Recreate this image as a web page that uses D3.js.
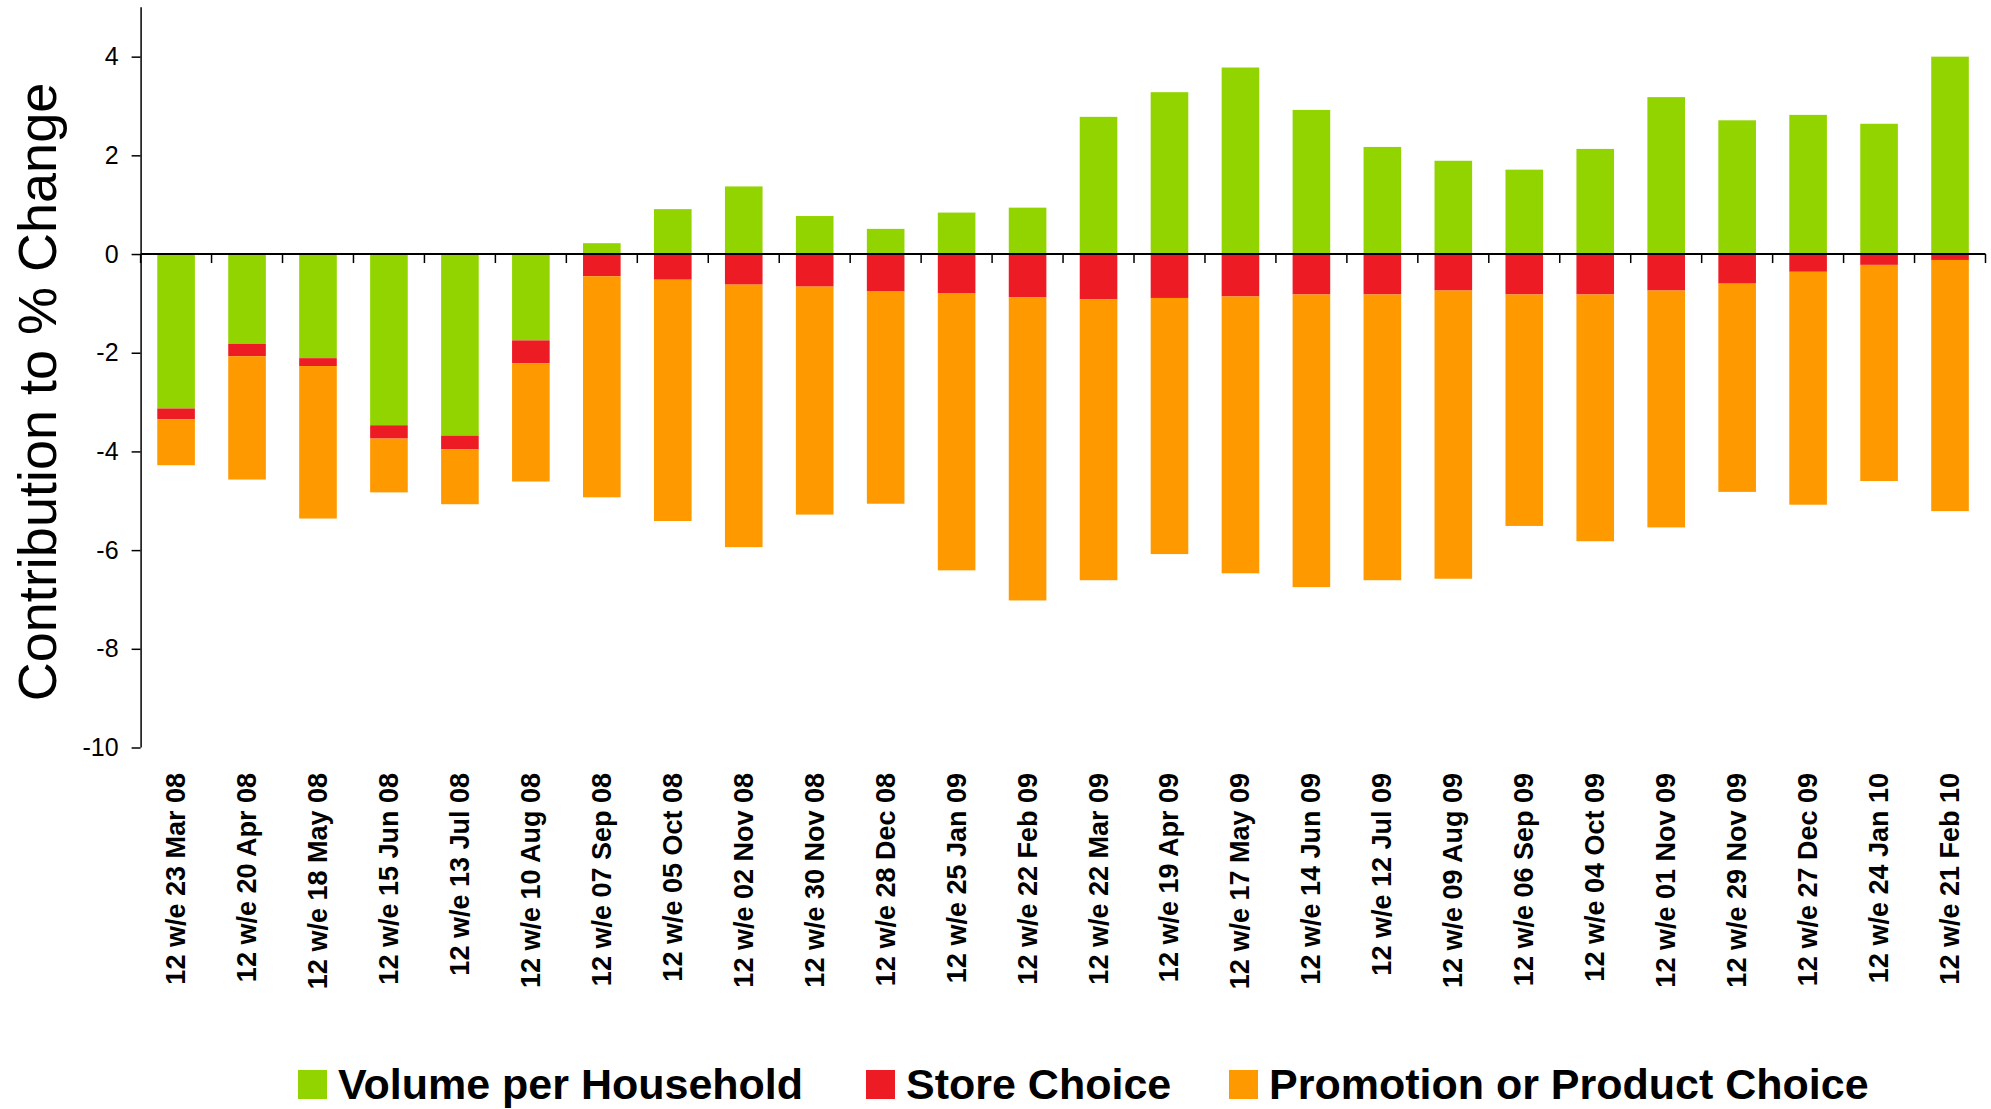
<!DOCTYPE html>
<html>
<head>
<meta charset="utf-8">
<script src="https://cdn.jsdelivr.net/npm/d3@7"></script>
<style>
  body { margin: 0; background: white; }
  svg { display: block; }
</style>
</head>
<body>
<svg id="chart" width="1991" height="1109"></svg>
<script>
/// data ///
const categories = [
  "12 w/e 23 Mar 08", "12 w/e 20 Apr 08", "12 w/e 18 May 08", "12 w/e 15 Jun 08",
  "12 w/e 13 Jul 08", "12 w/e 10 Aug 08", "12 w/e 07 Sep 08", "12 w/e 05 Oct 08",
  "12 w/e 02 Nov 08", "12 w/e 30 Nov 08", "12 w/e 28 Dec 08", "12 w/e 25 Jan 09",
  "12 w/e 22 Feb 09", "12 w/e 22 Mar 09", "12 w/e 19 Apr 09", "12 w/e 17 May 09",
  "12 w/e 14 Jun 09", "12 w/e 12 Jul 09", "12 w/e 09 Aug 09", "12 w/e 06 Sep 09",
  "12 w/e 04 Oct 09", "12 w/e 01 Nov 09", "12 w/e 29 Nov 09", "12 w/e 27 Dec 09",
  "12 w/e 24 Jan 10", "12 w/e 21 Feb 10"
]
const volumePerHousehold = [
  -3.13, -1.82, -2.11, -3.47, -3.68, -1.75, 0.22, 0.91, 1.37, 0.77, 0.51, 0.84, 0.94,
  2.78, 3.28, 3.78, 2.92, 2.17, 1.89, 1.71, 2.13, 3.18, 2.71, 2.82, 2.64, 4.00
]
const storeChoice = [
  -0.22, -0.25, -0.16, -0.27, -0.28, -0.46, -0.45, -0.52, -0.62, -0.66, -0.76, -0.80, -0.88,
  -0.92, -0.89, -0.86, -0.82, -0.82, -0.74, -0.82, -0.82, -0.74, -0.60, -0.36, -0.22, -0.12
]
const promotionOrProductChoice = [
  -0.93, -2.50, -3.09, -1.09, -1.11, -2.40, -4.48, -4.89, -5.32, -4.62, -4.30, -5.61, -6.14,
  -5.69, -5.19, -5.61, -5.93, -5.79, -5.84, -4.69, -5.00, -4.80, -4.22, -4.72, -4.38, -5.09
]
const seriesNames = ["Volume per Household", "Store Choice", "Promotion or Product Choice"]
const yTicks = [-10, -8, -6, -4, -2, 0, 2, 4]

/// constants ///
const font = "'Liberation Sans', Arial, sans-serif"
const colours = ["#92d400", "#ed1c24", "#ff9900"]
const plotLeft = 140.6, plotRight = 1985.5
const plotTop = 7.3, plotBottom = 747.5

// rows for the stack
const rows = categories.map((c, i) => ({
  cat: c,
  [seriesNames[0]]: volumePerHousehold[i],
  [seriesNames[1]]: storeChoice[i],
  [seriesNames[2]]: promotionOrProductChoice[i]
}))

// positives go up from zero, negatives go down in series order
const stacked = d3.stack()
  .keys(seriesNames)
  .offset(d3.stackOffsetDiverging)(rows)

/// scales ///
const xScale = d3.scaleBand()
  .domain(categories)
  .range([plotLeft, plotRight])
  .paddingInner(0.47)
  .paddingOuter(0.235)

const yScale = d3.scaleLinear()
  .domain([-10, 5])
  .range([plotBottom, plotTop])

const svg = d3.select("#chart")

/// bars ///
svg.append("g")
  .selectAll("g")
  .data(stacked)
  .join("g")
    .attr("fill", (d, i) => colours[i])
  .selectAll("rect")
  .data(d => d)
  .join("rect")
    .attr("x", d => xScale(d.data.cat))
    .attr("width", xScale.bandwidth())
    .attr("y", d => yScale(Math.max(d[0], d[1])))
    .attr("height", d => Math.abs(yScale(d[0]) - yScale(d[1])))

/// y axis ///
const yAxis = svg.append("g")
  .attr("transform", `translate(${plotLeft},0)`)
  .call(d3.axisLeft(yScale).tickValues(yTicks).tickFormat(d => String(d)).tickSize(9).tickPadding(13).tickSizeOuter(0))
yAxis.select(".domain").attr("stroke", "#000").attr("stroke-width", 1.5)
  .attr("d", `M0.5,${plotTop}V${plotBottom}`)
yAxis.selectAll(".tick line").attr("stroke", "#000").attr("stroke-width", 1.5)
yAxis.selectAll("text")
  .attr("font-family", font)
  .attr("font-size", "25px")
  .attr("fill", "#000")

/// zero line with boundary ticks ///
const zeroY = yScale(0)
svg.append("line")
  .attr("x1", plotLeft).attr("x2", plotRight)
  .attr("y1", zeroY).attr("y2", zeroY)
  .attr("stroke", "#000").attr("stroke-width", 2)

const boundaries = d3.range(categories.length + 1).map(i => plotLeft + i * xScale.step())
svg.append("g")
  .selectAll("line")
  .data(boundaries)
  .join("line")
    .attr("x1", d => d).attr("x2", d => d)
    .attr("y1", zeroY).attr("y2", zeroY + 9)
    .attr("stroke", "#000").attr("stroke-width", 1.5)

/// category labels ///
svg.append("g")
  .selectAll("text")
  .data(categories)
  .join("text")
    .attr("transform", d => `translate(${xScale(d) + xScale.bandwidth() / 2 + 9},773) rotate(-90)`)
    .attr("text-anchor", "end")
    .attr("font-family", font)
    .attr("font-weight", "bold")
    .attr("font-size", "27px")
    .attr("fill", "#000")
    .text(d => d)

/// y axis title ///
svg.append("text")
  .attr("transform", "translate(56,392) rotate(-90)")
  .attr("text-anchor", "middle")
  .attr("font-family", font)
  .attr("font-size", "54px")
  .attr("fill", "#000")
  .text("Contribution to % Change")

/// legend ///
const legendSquareX = [298, 866, 1229]
const legend = svg.append("g")
  .selectAll("g")
  .data(seriesNames)
  .join("g")
    .attr("transform", (d, i) => `translate(${legendSquareX[i]},1070)`)
legend.append("rect")
  .attr("width", 29).attr("height", 29)
  .attr("fill", (d, i) => colours[i])
legend.append("text")
  .attr("x", 40).attr("y", 29)
  .attr("font-family", font)
  .attr("font-weight", "bold")
  .attr("font-size", "43px")
  .attr("fill", "#000")
  .text(d => d)
</script>
</body>
</html>
